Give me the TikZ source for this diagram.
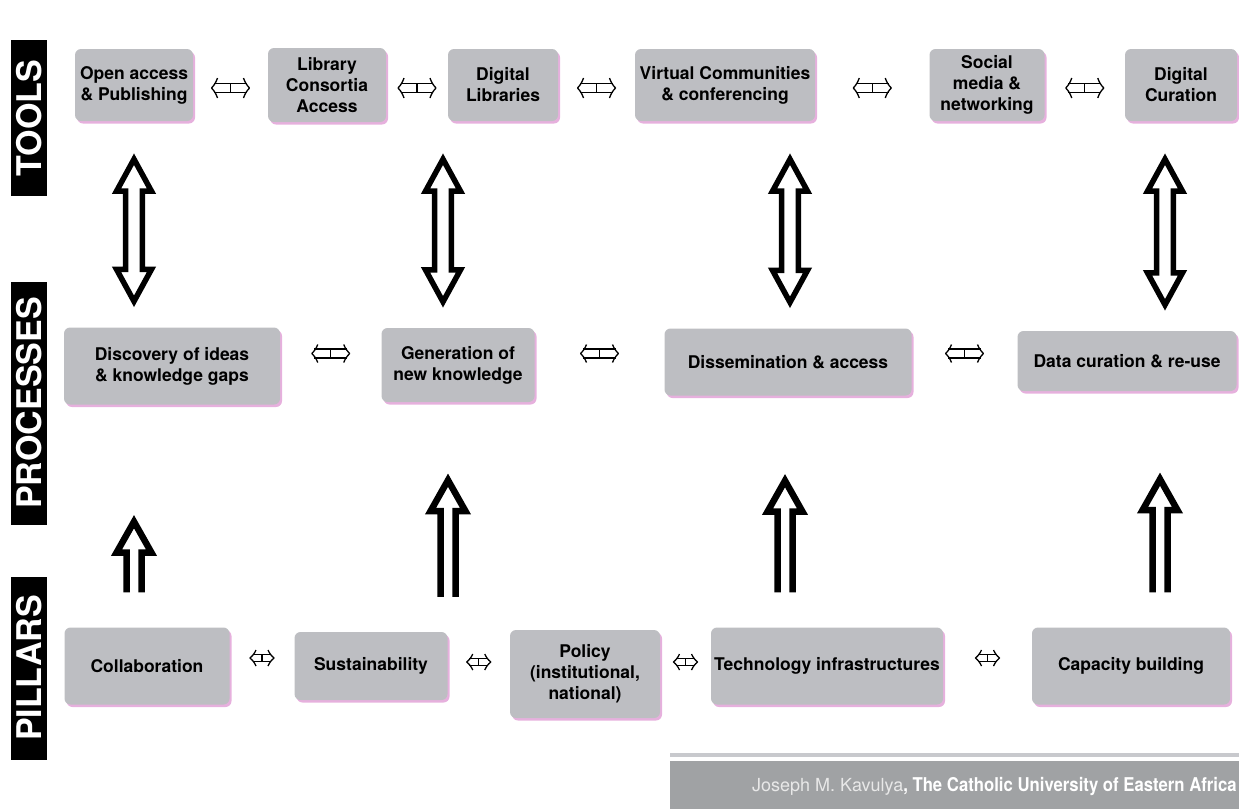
\documentclass[tikz,border=0pt]{standalone}
\usepackage{fontspec}
\setmainfont{TeX Gyre Heros}
\newfontfamily\narrowfont[FakeStretch=0.88]{TeX Gyre Heros}
\usetikzlibrary{calc,shadows}

\definecolor{boxgray}{RGB}{189,190,194}
\definecolor{shadowpink}{RGB}{222,150,210}
\definecolor{footgray}{RGB}{160,162,164}
\definecolor{linegray}{RGB}{200,201,205}
\definecolor{lightname}{RGB}{232,232,232}

\tikzset{
  box/.style={fill=boxgray, rounded corners=6pt, align=center, inner sep=0pt,
    font=\bfseries\fontsize{17.5}{21}\selectfont,
    drop shadow={shadow xshift=2pt, shadow yshift=-2.5pt, fill=shadowpink, opacity=.75}},
  rowlabel/.style={fill=black, text=white, rotate=90, inner sep=0pt,
    font=\bfseries\fontsize{34}{34}\selectfont, minimum height=36pt},
  hbar/.style={line width=1.3pt, line join=round},
  hollow/.style={line width=5.5pt, miter limit=10},
  upshaft/.style={line width=6.5pt, miter limit=10},
}

% small two-way link between neighbours: [half length]{left}{right}{dy}{half gap}{half height}
\newcommand\hlink[6][19]{%
  \coordinate (m) at ($(#2.east)!.5!(#3.west)+(0,#4)$);
  \draw[hbar] ($(m)+(-#1+6,-#6)$) to[bend left=12] ($(m)+(-#1,0)$) to[bend left=12] ($(m)+(-#1+6,#6)$);
  \draw[hbar] ($(m)+(#1-6,-#6)$) to[bend right=12] ($(m)+(#1,0)$) to[bend right=12] ($(m)+(#1-6,#6)$);
  \draw[hbar] ($(m)+(-#1+2.6,-#5)$) -- ($(m)+(#1-2.6,-#5)$);
  \draw[hbar] ($(m)+(-#1+2.6,#5)$) -- ($(m)+(#1-2.6,#5)$);
  \draw[hbar] ($(m)+(0,-#5)$) -- ($(m)+(0,#5)$);}

% big two-way arrow: {x}{upper}{lower}
\newcommand\twoway[3]{%
  \coordinate (top) at ($(#1,0 |- #2.south)+(0,38)$);
  \coordinate (bot) at ($(#1,0 |- #3.north)+(0,-26)$);
  \draw[hollow] (top) -- ++(17.5,32) -- ++(-9.2,0) -- ($(bot)+(8.3,-32)$)
    -- ++(9.2,0) -- (bot) -- ++(-17.5,-32) -- ++(9.2,0)
    -- ($(top)+(-8.3,32)$) -- ++(-9.2,0) -- cycle;}

% one-way arrow upwards: {x}{lower}{upper}{tip gap}
\newcommand\uplink[4]{%
  \coordinate (lo) at ($(#1,0 |- #2.north)+(0,-35)$);
  \coordinate (hi) at ($(#1,0 |- #3.south)+(0,#4)$);
  \draw[upshaft] ($(lo)+(-7.5,0)$) -- ($(hi)+(-7.5,31)$) -- ++(-10,0) -- (hi)
    -- ++(17.5,31) -- ++(-10,0) -- ($(lo)+(7.5,0)$);}

\begin{document}
\begin{tikzpicture}[x=1pt, y=-1pt]
  \useasboundingbox (0,0) rectangle (1239,809);

  % row labels
  \node[rowlabel, minimum width=156pt] (tools) at (29,118) {TOOLS};
  \node[rowlabel, minimum width=243pt] (processes) at (29,403) {PROCESSES};
  \node[rowlabel, minimum width=183pt] (pillars) at (29,668) {PILLARS};

  % tools
  \node[box, minimum width=118pt, minimum height=72pt] (t1) at (134,85) {Open access\\\& Publishing};
  \node[box, minimum width=118pt, minimum height=74pt] (t2) at (327,85) {Library\\Consortia\\Access};
  \node[box, minimum width=110pt, minimum height=72pt] (t3) at (503,85) {Digital\\Libraries};
  \node[box, minimum width=180pt, minimum height=72pt] (t4) at (725,85) {Virtual Communities\\\& conferencing};
  \node[box, minimum width=115pt, minimum height=72pt] (t5) at (987,85) {Social\\media \&\\networking};
  \node[box, minimum width=112pt, minimum height=72pt] (t6) at (1181,85) {Digital\\Curation};

  % processes
  \node[box, minimum width=216pt, minimum height=77pt] (p1) at (172,366) {Discovery of ideas\\\& knowledge gaps};
  \node[box, minimum width=153pt, minimum height=74pt] (p2) at (458,365) {Generation of\\new knowledge};
  \node[box, minimum width=247pt, minimum height=67pt] (p3) at (788,362) {Dissemination \& access};
  \node[box, minimum width=219pt, minimum height=60pt] (p4) at (1127,361) {Data curation \& re-use};

  % pillars
  \node[box, minimum width=165pt, minimum height=77pt] (c1) at (147,666) {Collaboration};
  \node[box, minimum width=153pt, minimum height=68pt] (c2) at (371,666) {Sustainability};
  \node[box, minimum width=150pt, minimum height=88pt] (c3) at (585,674) {Policy\\(institutional,\\national)};
  \node[box, minimum width=232pt, minimum height=77pt] (c4) at (827,666) {Technology infrastructures};
  \node[box, minimum width=198pt, minimum height=77pt] (c5) at (1131,666) {Capacity building};

  % links along the rows
  \hlink{t1}{t2}{3}{4.5}{10}
  \hlink{t2}{t3}{3}{4.5}{10}
  \hlink{t3}{t4}{3}{4.5}{10}
  \hlink{t4}{t5}{3}{4.5}{10}
  \hlink{t5}{t6}{3}{4.5}{10}
  \hlink{p1}{p2}{-12}{4.5}{9}
  \hlink{p2}{p3}{-10}{4.5}{9}
  \hlink{p3}{p4}{-8}{4.5}{9}
  \hlink[12]{c1}{c2}{-8}{3.5}{8}
  \hlink[12]{c2}{c3}{-8}{3.5}{8}
  \hlink[12]{c3}{c4}{-8}{3.5}{8}
  \hlink[12]{c4}{c5}{-8}{3.5}{8}

  % tools <-> processes
  \twoway{134}{t1}{p1}
  \twoway{443}{t3}{p2}
  \twoway{790}{t4}{p3}
  \twoway{1165}{t6}{p4}

  % pillars -> processes
  \uplink{134}{c1}{p1}{117}
  \uplink{448}{c2}{p2}{78}
  \uplink{785}{c4}{p3}{85}
  \uplink{1160}{c5}{p4}{88}

  % footer
  \fill[linegray] (670,753) rectangle (1239,757);
  \fill[footgray] (670,761) rectangle (1239,809);
  \node[anchor=base west, inner sep=0pt, font=\fontsize{18}{20}\selectfont] (credit) at (752,791)
    {\color{lightname}Joseph M. Kavulya\narrowfont\bfseries\fontsize{19}{20}\selectfont\color{white}, The Catholic University of Eastern Africa};
\end{tikzpicture}
\end{document}
